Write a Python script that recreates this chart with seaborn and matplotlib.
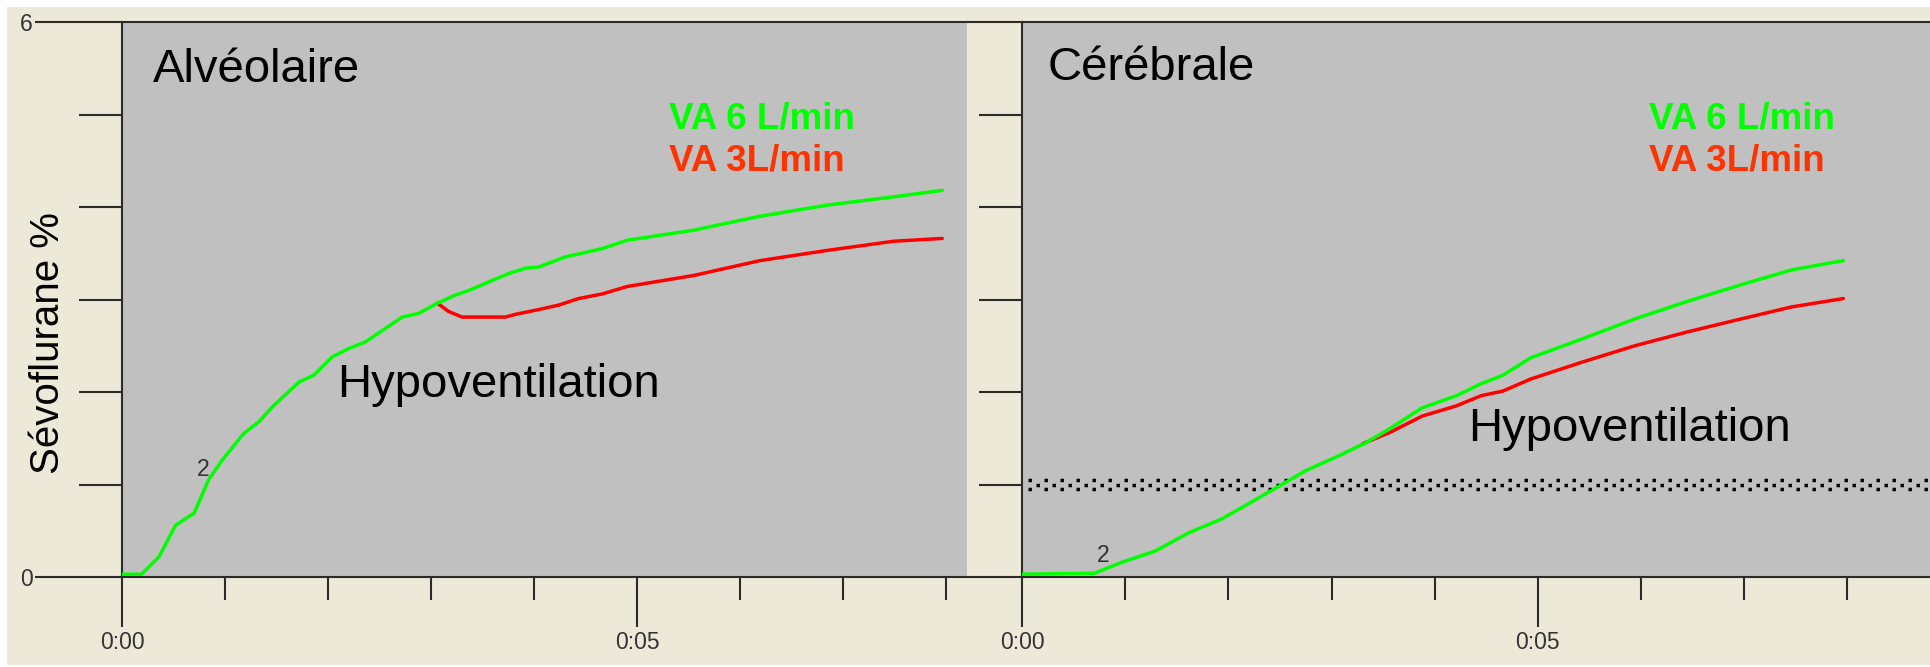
import matplotlib
matplotlib.use("Agg")
import matplotlib.pyplot as plt
from matplotlib.patches import Rectangle
from matplotlib.transforms import offset_copy
import seaborn as sns
import pandas as pd

# Sevoflurane concentration (%) versus time (minutes)
alv_time_6 = [0, 0.19, 0.36, 0.52, 0.70, 0.84, 0.97, 1.18, 1.33, 1.46, 1.72, 1.86,
              2.04, 2.20, 2.36, 2.56, 2.72, 2.88, 3.06, 3.24, 3.37, 3.56, 3.75, 3.92,
              4.04, 4.30, 4.66, 4.90, 5.55, 6.19, 6.84, 7.49, 7.96]
alv_sevo_6 = [0.03, 0.03, 0.22, 0.56, 0.69, 1.05, 1.26, 1.55, 1.68, 1.84, 2.11, 2.18,
              2.38, 2.47, 2.54, 2.69, 2.81, 2.85, 2.96, 3.05, 3.10, 3.19, 3.28, 3.34,
              3.35, 3.46, 3.55, 3.64, 3.75, 3.90, 4.02, 4.11, 4.18]
alv_time_3 = [3.06, 3.17, 3.30, 3.72, 3.82, 4.04, 4.24, 4.43, 4.66, 4.90, 5.55, 6.19,
              6.84, 7.49, 7.96]
alv_sevo_3 = [2.96, 2.87, 2.81, 2.81, 2.84, 2.89, 2.94, 3.01, 3.06, 3.14, 3.26, 3.42,
              3.53, 3.63, 3.66]

cer_time_6 = [0, 0.70, 0.97, 1.29, 1.62, 1.94, 2.27, 2.52, 2.75, 3.07, 3.33, 3.56,
              3.88, 4.21, 4.45, 4.66, 4.93, 5.42, 5.94, 6.45, 6.97, 7.46, 7.96]
cer_sevo_6 = [0.03, 0.04, 0.16, 0.28, 0.48, 0.63, 0.84, 1.00, 1.15, 1.31, 1.45, 1.60,
              1.83, 1.96, 2.09, 2.18, 2.37, 2.57, 2.79, 2.98, 3.16, 3.32, 3.42]
cer_time_3 = [3.30, 3.56, 3.88, 4.21, 4.45, 4.66, 4.93, 5.42, 5.94, 6.45, 6.97, 7.46, 7.96]
cer_sevo_3 = [1.44, 1.56, 1.74, 1.85, 1.96, 2.01, 2.14, 2.32, 2.50, 2.65, 2.79, 2.92, 3.01]

panel_titles = ["Alvéolaire", "Cérébrale"]
series_labels = ["VA 6 L/min", "VA 3L/min"]
annotation = "Hypoventilation"
y_label = "Sévoflurane %"
x_major = [0, 5]
x_major_labels = ["0:00", "0:05"]
x_minor = [1, 2, 3, 4, 6, 7, 8]
y_major = [0, 6]
y_major_labels = ["0", "6"]
y_minor = [1, 2, 3, 4, 5]
threshold = 1.0

BEIGE = "#ECE9D8"
PANEL = "#C0C0C0"
GREEN = "#00FF00"
RED = "#FF0000"
RED_TEXT = "#FF3300"
INK = "#2B2B2B"
TICK_FONT = ["Liberation Sans", "DejaVu Sans"]
TICK_SIZE = 16.5

sns.set_style("white")
plt.rcParams["font.family"] = ["Liberation Sans", "DejaVu Sans"]

W, H = 1930, 667
fig = plt.figure(figsize=(W / 100, H / 100), dpi=100, facecolor="white")
fig.patches.append(Rectangle((7 / W, 2 / H), 1, (660 - 2) / H, transform=fig.transFigure,
                             facecolor=BEIGE, edgecolor="none", zorder=-10))

ax1 = fig.add_axes([122 / W, 90 / H, 845 / W, 555 / H])
ax2 = fig.add_axes([1022 / W, 90 / H, 908 / W, 555 / H])


def style_axes(ax, xmax, major_len_y, show_labels):
    ax.set_facecolor(PANEL)
    ax.set_xlim(0, xmax)
    ax.set_ylim(0, 6)
    for side in ("left", "top", "bottom"):
        ax.spines[side].set_visible(True)
        ax.spines[side].set_color(INK)
        ax.spines[side].set_linewidth(1.5)
    ax.spines["right"].set_visible(False)
    ax.set_xticks(x_major)
    ax.set_xticklabels(x_major_labels)
    ax.set_xticks(x_minor, minor=True)
    ax.set_yticks(y_major)
    ax.set_yticklabels(y_major_labels if show_labels else [])
    ax.set_yticks(y_minor, minor=True)
    ax.tick_params(axis="x", which="major", direction="out", length=36, width=1.5,
                   color=INK, pad=3, labelsize=TICK_SIZE, labelcolor="#333333",
                   labelfontfamily=TICK_FONT, bottom=True)
    ax.tick_params(axis="x", which="minor", direction="out", length=16.5, width=1.5,
                   color=INK, bottom=True)
    ax.tick_params(axis="y", which="major", direction="out", length=major_len_y, width=1.5,
                   color=INK, pad=1.5, labelsize=TICK_SIZE, labelcolor="#333333",
                   labelfontfamily=TICK_FONT, left=True)
    ax.tick_params(axis="y", which="minor", direction="out", length=31, width=1.5,
                   color=INK, left=True)
    ax.set_xlabel("")
    ax.set_ylabel("")


panels = [
    (ax1, alv_time_6, alv_sevo_6, alv_time_3, alv_sevo_3),
    (ax2, cer_time_6, cer_sevo_6, cer_time_3, cer_sevo_3),
]
for ax, t6, s6, t3, s3 in panels:
    d3 = pd.DataFrame({"temps": t3, "sevo": s3})
    d6 = pd.DataFrame({"temps": t6, "sevo": s6})
    sns.lineplot(data=d3, x="temps", y="sevo", ax=ax, color=RED, linewidth=2.5,
                 sort=False, estimator=None, zorder=3)
    sns.lineplot(data=d6, x="temps", y="sevo", ax=ax, color=GREEN, linewidth=2.5,
                 sort=False, estimator=None, zorder=4)

style_axes(ax1, 8.2, 62.6, True)
style_axes(ax2, 8.8, 39.6, False)

# threshold line drawn as a three-row dot pattern (16 px pitch)
lw_pt = 2.5
dot_px = lw_pt / 0.72
off_units = (16 - dot_px) / dot_px
mid_shift = 8 / dot_px
for dy_pt, offset in [(3.3, 0.0), (0.0, mid_shift), (-3.3, 0.0)]:
    trans = offset_copy(ax2.get_yaxis_transform(), fig=fig, x=0, y=dy_pt, units="points")
    ax2.plot([0.007, 1.0], [threshold, threshold], transform=trans, color="black",
             linewidth=lw_pt, linestyle=(offset, (1.0, off_units)), dash_capstyle="butt",
             solid_capstyle="butt", zorder=2)

# curve labels
for ax, (tx, ty) in [(ax1, (0.79, 1.16)), (ax2, (0.79, 0.23))]:
    ax.text(tx, ty, "2", ha="center", va="center", fontsize=TICK_SIZE, color="#333333",
            family=TICK_FONT, zorder=5)

# panel headings and legends
ax1.text(0.0367, 0.8919, panel_titles[0], transform=ax1.transAxes, fontsize=34,
         va="baseline", ha="left", color="black")
ax2.text(0.0286, 0.8955, panel_titles[1], transform=ax2.transAxes, fontsize=34,
         va="baseline", ha="left", color="black")
for ax, xl in [(ax1, 0.6473), (ax2, 0.6905)]:
    ax.text(xl, 0.8090, series_labels[0], transform=ax.transAxes, fontsize=26.5,
            fontweight="bold", color=GREEN, va="baseline", ha="left")
    ax.text(xl, 0.7333, series_labels[1], transform=ax.transAxes, fontsize=26.5,
            fontweight="bold", color=RED_TEXT, va="baseline", ha="left")

ax1.text(0.2544, 0.3243, annotation, transform=ax1.transAxes, fontsize=34,
         va="baseline", ha="left", color="black", zorder=5)
ax2.text(0.4912, 0.2450, annotation, transform=ax2.transAxes, fontsize=34,
         va="baseline", ha="left", color="black", zorder=5)

fig.text(48 / W, 1 - 343 / H, y_label, rotation=90, fontsize=29, ha="center",
         va="center", color="black")

fig.savefig("out.png", dpi=100, facecolor=fig.get_facecolor())
